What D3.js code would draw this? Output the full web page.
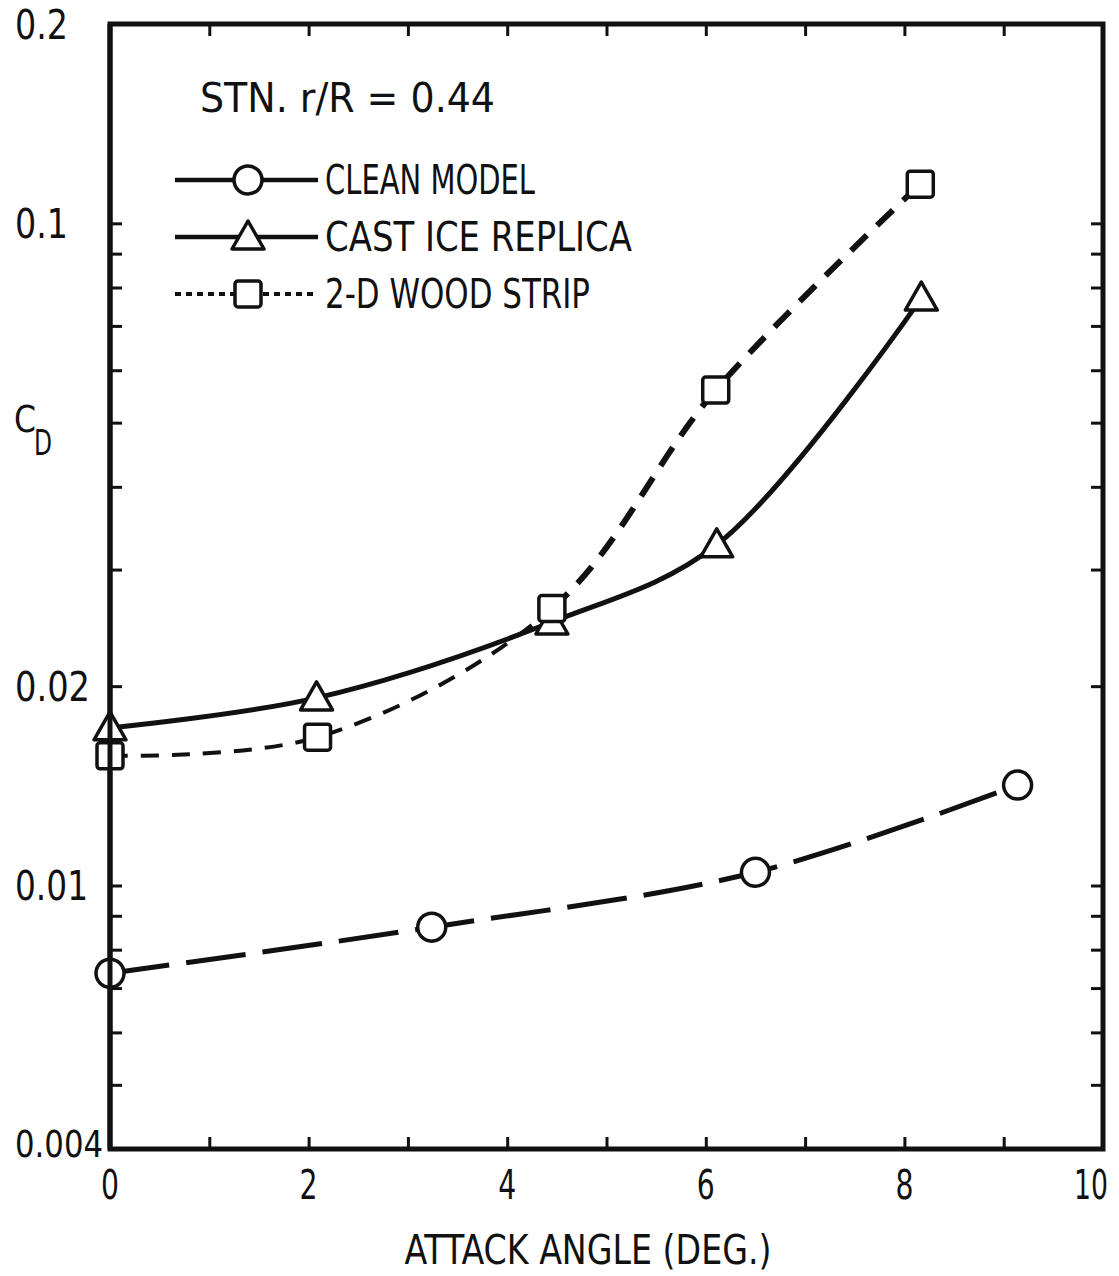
<!DOCTYPE html>
<html>
<head>
<meta charset="utf-8">
<script src="https://cdn.jsdelivr.net/npm/d3@7"></script>
<style>
    body { margin: 0; background: #fff; }
    svg text { font-family: "Liberation Sans Narrow", "DejaVu Sans Condensed", "DejaVu Sans", sans-serif; fill: #111; }
</style>
</head>
<body>
<div id="chart"></div>
<script>
const WIDTH  = 1119;
const HEIGHT = 1276;

// Chart values
const xTickValues  = [0, 1, 2, 3, 4, 5, 6, 7, 8, 9, 10];
const xTickLabels  = [0, 2, 4, 6, 8, 10];
const yTickValues  = [0.004, 0.005, 0.006, 0.007, 0.008, 0.009,
                      0.01, 0.02, 0.03, 0.04, 0.05, 0.06, 0.07, 0.08, 0.09,
                      0.1, 0.2];
const yTickLabels  = ["0.2", "0.1", "0.02", "0.01", "0.004"];

const cleanAngle = [0, 3.24, 6.5, 9.14];
const cleanCd    = [0.00737, 0.00865, 0.01047, 0.01418];

const iceAngle   = [0, 2.08, 4.45, 6.11, 8.17];
const iceCd      = [0.0173, 0.0192, 0.025, 0.0327, 0.0771];

const woodAngle  = [0, 2.09, 4.45, 6.1, 8.16];
const woodCd     = [0.0157, 0.01675, 0.0262, 0.056, 0.1146];

const legendLabels = ["CLEAN MODEL", "CAST ICE REPLICA", "2-D WOOD STRIP"];
const stationLabel = "STN. r/R = 0.44";

// Plot frame
const PLOT_LEFT = 110, PLOT_RIGHT = 1103, PLOT_TOP = 24, PLOT_BOTTOM = 1149;

const x = d3.scaleLinear().domain([0, 10]).range([PLOT_LEFT, PLOT_RIGHT]);
const y = d3.scaleLog().domain([0.004, 0.2]).range([PLOT_BOTTOM, PLOT_TOP]);

const svg = d3.select("#chart").append("svg")
    .attr("width", WIDTH)
    .attr("height", HEIGHT);

const zip = (xs, ys) => xs.map((v, i) => [v, ys[i]]);

const line = d3.line()
    .x((d) => x(d[0]))
    .y((d) => y(d[1]))
    .curve(d3.curveCatmullRom.alpha(0.5));

// Axes with inward ticks on all four sides
const TICK_LEN = 12;

svg.append("g")
    .attr("transform", "translate(0," + PLOT_BOTTOM + ")")
    .call(d3.axisBottom(x).tickValues(xTickValues).tickSize(-TICK_LEN).tickFormat(""));
svg.append("g")
    .attr("transform", "translate(0," + PLOT_TOP + ")")
    .call(d3.axisTop(x).tickValues(xTickValues).tickSize(-TICK_LEN).tickFormat(""));
svg.append("g")
    .attr("transform", "translate(" + PLOT_LEFT + ",0)")
    .call(d3.axisLeft(y).tickValues(yTickValues).tickSize(-TICK_LEN).tickFormat(""));
svg.append("g")
    .attr("transform", "translate(" + PLOT_RIGHT + ",0)")
    .call(d3.axisRight(y).tickValues(yTickValues).tickSize(-TICK_LEN).tickFormat(""));

svg.selectAll(".domain").remove();
svg.selectAll(".tick line").attr("stroke", "#111").attr("stroke-width", 3);

// Frame
svg.append("rect")
    .attr("x", PLOT_LEFT)
    .attr("y", PLOT_TOP)
    .attr("width", PLOT_RIGHT - PLOT_LEFT)
    .attr("height", PLOT_BOTTOM - PLOT_TOP)
    .attr("fill", "none")
    .attr("stroke", "#111")
    .attr("stroke-width", 5);

// Series lines
const series = svg.append("g").attr("fill", "none").attr("stroke", "#111");

series.append("path")
    .attr("d", line(zip(cleanAngle, cleanCd)))
    .attr("stroke-width", 5)
    .attr("stroke-dasharray", "60 17");

series.append("path")
    .attr("d", line(zip(iceAngle, iceCd)))
    .attr("stroke-width", 5);

// Wood strip: finer dashes up to the 4.45 deg point, heavier ones after it
const woodPath = series.append("path")
    .attr("d", line(zip(woodAngle, woodCd)))
    .attr("stroke-width", 4);

(function () {
    let node   = woodPath.node();
    let total  = node.getTotalLength();
    let target = x(woodAngle[2]);

    // Find the path length at the split angle
    let lo = 0, hi = total;
    for (let i = 0; i < 40; i++) {
        let mid = (lo + hi) / 2;
        if (node.getPointAtLength(mid).x < target) lo = mid; else hi = mid;
    }
    let split = lo;

    let fine = [], len = 0;
    while (len + 31 < split) { fine.push(18, 13); len += 31; }
    fine.push(Math.max(0, split - len), total);
    woodPath.attr("stroke-dasharray", fine.join(" "));

    let heavy = [0, split];
    for (let l = split; l < total; l += 36) { heavy.push(22, 14); }
    series.append("path")
        .attr("d", line(zip(woodAngle, woodCd)))
        .attr("stroke-width", 6)
        .attr("stroke-dasharray", heavy.join(" "));
})();

// Markers
function circleMarker(g, cx, cy) {
    g.append("circle")
        .attr("cx", cx).attr("cy", cy).attr("r", 14)
        .attr("fill", "#fff").attr("stroke", "#111").attr("stroke-width", 3.5);
}

function triangleMarker(g, cx, cy) {
    const s = 16;
    g.append("path")
        .attr("d", "M" + cx + "," + (cy - s) +
                   "L" + (cx + s) + "," + (cy + s * 0.75) +
                   "L" + (cx - s) + "," + (cy + s * 0.75) + "Z")
        .attr("fill", "#fff").attr("stroke", "#111").attr("stroke-width", 3.5)
        .attr("stroke-linejoin", "round");
}

function squareMarker(g, cx, cy) {
    g.append("rect")
        .attr("x", cx - 13).attr("y", cy - 13)
        .attr("width", 26).attr("height", 26).attr("rx", 3)
        .attr("fill", "#fff").attr("stroke", "#111").attr("stroke-width", 3.5);
}

const markers = svg.append("g");
zip(cleanAngle, cleanCd).forEach((d) => circleMarker(markers, x(d[0]), y(d[1])));
zip(iceAngle, iceCd).forEach((d) => triangleMarker(markers, x(d[0]), y(d[1])));
zip(woodAngle, woodCd).forEach((d) => squareMarker(markers, x(d[0]), y(d[1])));

// Redraw the left frame edge over the markers sitting on it
svg.append("line")
    .attr("x1", PLOT_LEFT).attr("x2", PLOT_LEFT).attr("y1", PLOT_TOP).attr("y2", PLOT_BOTTOM)
    .attr("stroke", "#111").attr("stroke-width", 5);

// Texts
const FONT_SIZE = 40;

function addText(str, tx, ty, anchor, width, size) {
    let t = svg.append("text")
        .attr("x", tx).attr("y", ty)
        .attr("font-size", size || FONT_SIZE)
        .attr("text-anchor", anchor || "start")
        .text(str);
    if (width) {
        t.attr("textLength", width).attr("lengthAdjust", "spacingAndGlyphs");
    }
    return t;
}

// Tick labels
const yLabelWidths = { "0.2": 53, "0.1": 53, "0.02": 75, "0.01": 73, "0.004": 88 };
yTickLabels.forEach((lbl) => {
    let v = +lbl;
    addText(lbl, 15, y(v) + (v === 0.004 ? 8 : 15), "start", yLabelWidths[lbl], v === 0.004 ? 38 : FONT_SIZE);
});
xTickLabels.forEach((v) => {
    let w = v >= 10 ? 34 : 18;
    addText(String(v), Math.min(x(v), 1108 - w / 2), 1199, "middle", w);
});

// Axis titles
addText("ATTACK ANGLE (DEG.)", 588, 1264, "middle", 367);
addText("C", 14, 432, "start", 22, 38);
addText("D", 34, 455, "start", 18, 36);

// Legend
addText(stationLabel, 200, 112, "start", 295);

const legendRows = [
    { y: 180, marker: circleMarker,   dash: null,  width: 4.5 },
    { y: 237, marker: triangleMarker, dash: null,  width: 4.5 },
    { y: 294, marker: squareMarker,   dash: "6 5", width: 4 }
];
const legendWidths = [210, 307, 265];

const legend = svg.append("g");
legendRows.forEach((row, i) => {
    legend.append("line")
        .attr("x1", 175).attr("x2", 318)
        .attr("y1", row.y).attr("y2", row.y)
        .attr("stroke", "#111")
        .attr("stroke-width", row.width)
        .attr("stroke-dasharray", row.dash);
    row.marker(legend, 248, row.y);
    addText(legendLabels[i], 325, row.y + 14, "start", legendWidths[i]);
});
</script>
</body>
</html>
